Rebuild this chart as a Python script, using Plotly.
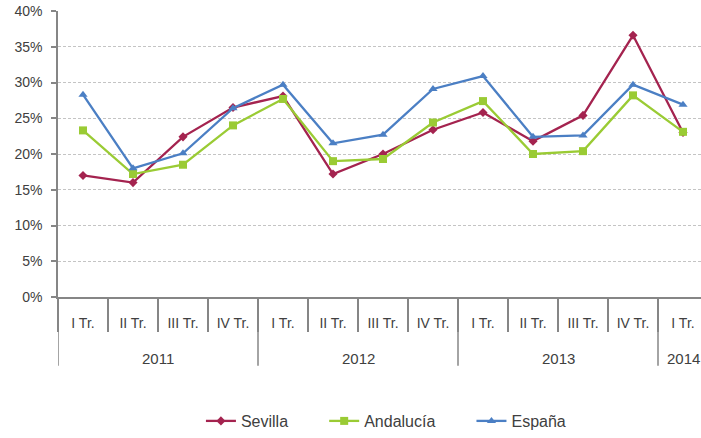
import plotly.graph_objects as go

years = ["2011", "2011", "2011", "2011", "2012", "2012", "2012", "2012",
         "2013", "2013", "2013", "2013", "2014"]
quarters = ["I Tr.", "II Tr.", "III Tr.", "IV Tr.", "I Tr.", "II Tr.", "III Tr.", "IV Tr.",
            "I Tr.", "II Tr.", "III Tr.", "IV Tr.", "I Tr."]
sevilla = [17.0, 16.0, 22.4, 26.5, 28.1, 17.2, 20.0, 23.4, 25.8, 21.8, 25.4, 36.6, 23.0]
andalucia = [23.3, 17.2, 18.5, 24.0, 27.7, 19.0, 19.3, 24.4, 27.4, 20.0, 20.4, 28.2, 23.1]
espana = [28.3, 18.0, 20.1, 26.4, 29.7, 21.5, 22.7, 29.1, 30.9, 22.4, 22.6, 29.7, 26.9]

series = [
    ("Sevilla", sevilla, "#A4234F", "diamond", 7, "\u00a0" * 7),
    ("Andalucía", andalucia, "#9ACB34", "square", 8, "\u00a0" * 7),
    ("España", espana, "#4B7FC4", "triangle-up", 8, ""),
]

x = list(range(len(quarters)))
TXT = "#404040"
AX = "#868686"

fig = go.Figure()
for name, vals, col, sym, sz, pad in series:
    fig.add_trace(go.Scatter(
        x=x, y=vals, name=name + pad, mode="lines+markers",
        line=dict(color=col, width=2.3),
        marker=dict(symbol=sym, size=sz, color=col),
    ))

# year groups
groups = []
for i, yv in enumerate(years):
    if not groups or groups[-1][0] != yv:
        groups.append([yv, i, i])
    else:
        groups[-1][2] = i

shapes = []
annotations = []
for yv, a, b in groups:
    shapes.append(dict(type="line", xref="x", yref="paper", x0=a - 0.5, x1=a - 0.5,
                       y0=0, y1=-0.24, line=dict(color=AX, width=1.5)))
    annotations.append(dict(x=(a + b) / 2, y=-0.215, xref="x", yref="paper", text=yv,
                            showarrow=False, yanchor="middle", xanchor="center",
                            font=dict(size=15, color=TXT)))

fig.update_layout(
    width=701, height=438,
    margin=dict(l=58, r=0, t=11, b=135),
    paper_bgcolor="white", plot_bgcolor="white",
    font=dict(family="Liberation Sans, Arial, sans-serif", color=TXT),
    showlegend=True,
    legend=dict(orientation="h", x=0.51, xanchor="center", y=-0.435, yanchor="middle",
                font=dict(size=16, color=TXT), itemwidth=30),
    shapes=shapes, annotations=annotations,
    xaxis=dict(
        range=[-0.5, 12.36], tickmode="array", tickvals=x, ticktext=quarters,
        ticks="", showgrid=False, zeroline=False, automargin=False,
        showline=True, linecolor=AX, linewidth=1.5,
        tickfont=dict(size=14, color=TXT), ticklabelstandoff=12,
        minor=dict(tick0=-0.5, dtick=1, ticks="outside", ticklen=33,
                   tickcolor=AX, tickwidth=1.5, showgrid=False),
    ),
    yaxis=dict(
        range=[0, 40], dtick=5, ticksuffix="%", automargin=False,
        showgrid=True, gridcolor="#C4C4C4", gridwidth=1, griddash="3px,2px",
        zeroline=False, showline=True, linecolor=AX, linewidth=1.5,
        ticks="outside", ticklen=5, tickcolor=AX, tickwidth=1.5,
        tickfont=dict(size=14, color=TXT), ticklabelstandoff=6,
    ),
)

fig.write_html("out.html", config={"displayModeBar": False},
               post_script="document.body.style.margin='0';document.body.style.overflow='hidden';")
